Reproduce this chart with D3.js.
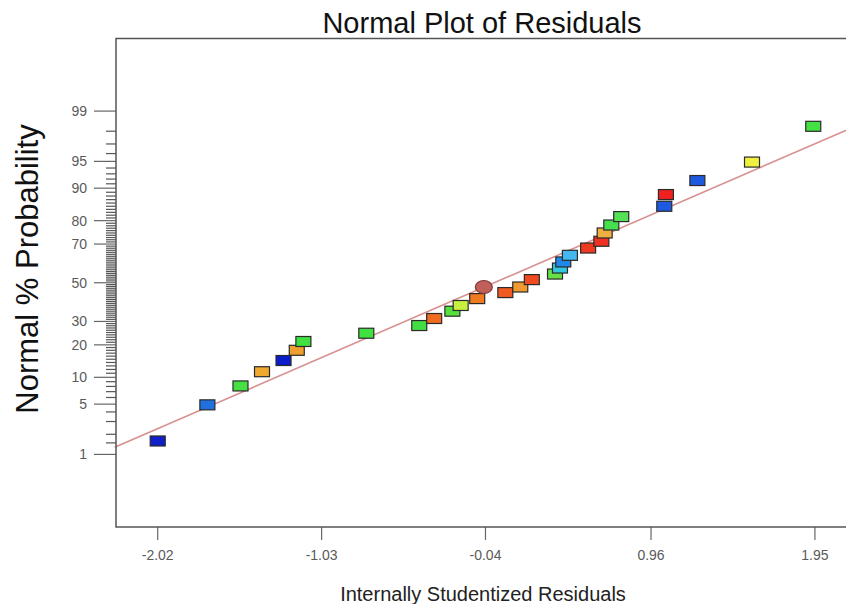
<!DOCTYPE html>
<html lang='en'>
<head>
<meta charset="utf-8">
<title>Normal Plot of Residuals</title>
<script src="https://d3js.org/d3.v7.min.js"></script>
<style type='text/css'>
    body {margin: 0; background: #fff;}
    text {font-family: "Liberation Sans", Arial, sans-serif;}
</style>
</head>
<body>
<svg width="846" height="604"></svg>
<script>
// values
var residuals = [-2.02, -1.72, -1.52, -1.39, -1.26, -1.18, -1.14, -0.76, -0.44, -0.35, -0.24,
                 -0.19, -0.09, -0.05, 0.08, 0.17, 0.24, 0.38, 0.41, 0.43, 0.47, 0.58, 0.66,
                 0.68, 0.72, 0.78, 1.04, 1.05, 1.24, 1.57, 1.94];
var probability = [1.6, 4.9, 8.1, 11.4, 14.6, 18.0, 21.3, 24.7, 28.1, 31.4, 35.0,
                   37.9, 41.5, 47.7, 44.7, 47.7, 51.7, 54.7, 57.9, 61.1, 64.5, 68.1, 71.3,
                   75.0, 78.3, 81.5, 85.0, 88.4, 91.7, 94.9, 98.3];
var pointColors = ['#1020c8', '#2070e0', '#44e044', '#f0a830', '#0a1ccc', '#f0a030', '#40e040',
                   '#40e040', '#44dd44', '#f06a20', '#55e040', '#c8f040', '#f07a20', '#c0605a',
                   '#f05a20', '#f09a30', '#f04a20', '#66e044', '#30c8e0', '#2088e8', '#44b8f0',
                   '#f03a20', '#f03020', '#f0b040', '#44e050', '#55e055', '#1e5ae0', '#f02020',
                   '#1e5ae0', '#f0f040', '#44e044'];
var ellipseIndex = 13;

var xTickValues = [-2.02, -1.03, -0.04, 0.96, 1.95];
var xTickLabels = ['-2.02', '-1.03', '-0.04', '0.96', '1.95'];
var yTickValues = [1, 5, 10, 20, 30, 50, 70, 80, 90, 95, 99];

// fitted line end points
var lineResiduals = [-2.28, 2.17];
var linePercent = [1.29, 98.2];

// inverse normal cdf (Acklam)
function probit(p) {
    var a = [-3.969683028665376e+01, 2.209460984245205e+02, -2.759285104469687e+02, 1.383577518672690e+02, -3.066479806614716e+01, 2.506628277459239e+00];
    var b = [-5.447609879822406e+01, 1.615858368580409e+02, -1.556989798598866e+02, 6.680131188771972e+01, -1.328068155288572e+01];
    var c = [-7.784894002430293e-03, -3.223964580411365e-01, -2.400758277161838e+00, -2.549732539343734e+00, 4.374664141464968e+00, 2.938163982698783e+00];
    var d = [7.784695709041462e-03, 3.224671290700398e-01, 2.445134137142996e+00, 3.754408661907416e+00];
    var q, r;
    if (p < 0.02425) {
        q = Math.sqrt(-2 * Math.log(p));
        return (((((c[0]*q+c[1])*q+c[2])*q+c[3])*q+c[4])*q+c[5]) / ((((d[0]*q+d[1])*q+d[2])*q+d[3])*q+1);
    } else if (p > 1 - 0.02425) {
        q = Math.sqrt(-2 * Math.log(1 - p));
        return -(((((c[0]*q+c[1])*q+c[2])*q+c[3])*q+c[4])*q+c[5]) / ((((d[0]*q+d[1])*q+d[2])*q+d[3])*q+1);
    }
    q = p - 0.5;
    r = q * q;
    return (((((a[0]*r+a[1])*r+a[2])*r+a[3])*r+a[4])*r+a[5])*q / (((((b[0]*r+b[1])*r+b[2])*r+b[3])*r+b[4])*r+1);
}

var plotLeft = 116, plotTop = 38.5, plotRight = 851, plotBottom = 527;

var xScale = d3.scaleLinear().domain([-2.272, 2.168]).range([plotLeft, plotRight]);
var zScale = d3.scaleLinear().domain([-3.31, 3.31]).range([plotBottom, plotTop]);
function yPos(pct) { return zScale(probit(pct / 100)); }

var svg = d3.select('svg');

// title
svg.append('text')
    .attr('x', 482).attr('y', 33)
    .attr('text-anchor', 'middle')
    .style('font-size', '29px').style('fill', '#111')
    .text('Normal Plot of Residuals');

// fitted line
svg.append('line')
    .attr('x1', xScale(lineResiduals[0])).attr('y1', yPos(linePercent[0]))
    .attr('x2', xScale(lineResiduals[1])).attr('y2', yPos(linePercent[1]))
    .style('stroke', '#d89090').style('stroke-width', 1.6);

// minor ticks on the probability axis
var minorTicks = [1.5].concat(d3.range(2, 99).filter(function(v) { return yTickValues.indexOf(v) < 0; }));
svg.append('g').selectAll('line')
    .data(minorTicks)
    .enter()
    .append('line')
    .attr('x1', plotLeft - 10).attr('x2', plotLeft)
    .attr('y1', function(d) { return yPos(d); })
    .attr('y2', function(d) { return yPos(d); })
    .style('stroke', '#555').style('stroke-width', 1.2);

// major ticks + labels
var yAxis = svg.append('g');
yAxis.selectAll('line')
    .data(yTickValues)
    .enter()
    .append('line')
    .attr('x1', plotLeft - 22).attr('x2', plotLeft)
    .attr('y1', function(d) { return yPos(d); })
    .attr('y2', function(d) { return yPos(d); })
    .style('stroke', '#666').style('stroke-width', 1.2);
yAxis.selectAll('text')
    .data(yTickValues)
    .enter()
    .append('text')
    .attr('x', 87)
    .attr('y', function(d) { return yPos(d); })
    .attr('dy', '0.35em')
    .attr('text-anchor', 'end')
    .style('font-size', '14px').style('fill', '#5a5a5a')
    .text(function(d) { return d; });

// x axis ticks below the frame
var xAxis = svg.append('g');
xAxis.selectAll('line')
    .data(xTickValues)
    .enter()
    .append('line')
    .attr('x1', function(d) { return xScale(d); })
    .attr('x2', function(d) { return xScale(d); })
    .attr('y1', plotBottom).attr('y2', plotBottom + 13)
    .style('stroke', '#666').style('stroke-width', 1.2);
xAxis.selectAll('text')
    .data(xTickValues)
    .enter()
    .append('text')
    .attr('x', function(d) { return xScale(d); })
    .attr('y', 560)
    .attr('text-anchor', 'middle')
    .style('font-size', '14px').style('fill', '#5a5a5a')
    .text(function(d, i) { return xTickLabels[i]; });

// frame
svg.append('rect')
    .attr('x', plotLeft).attr('y', plotTop)
    .attr('width', plotRight - plotLeft).attr('height', plotBottom - plotTop)
    .style('fill', 'none').style('stroke', '#555').style('stroke-width', 1.5);

// axis titles
svg.append('text')
    .attr('x', 483).attr('y', 601)
    .attr('text-anchor', 'middle')
    .style('font-size', '20px').style('fill', '#222')
    .text('Internally Studentized Residuals');

svg.append('text')
    .attr('transform', 'translate(38,269) rotate(-90)')
    .attr('text-anchor', 'middle')
    .style('font-size', '31px').style('fill', '#111')
    .text('Normal % Probability');

// points
var points = residuals.map(function(r, i) { return {r: r, p: probability[i], c: pointColors[i], i: i}; });

svg.append('g').selectAll('rect')
    .data(points.filter(function(d) { return d.i !== ellipseIndex; }))
    .enter()
    .append('rect')
    .attr('x', function(d) { return xScale(d.r) - 7.5; })
    .attr('y', function(d) { return yPos(d.p) - 5; })
    .attr('width', 15).attr('height', 10)
    .style('fill', function(d) { return d.c; })
    .style('stroke', '#2a2a2a').style('stroke-width', 1.2);

svg.append('g').selectAll('ellipse')
    .data(points.filter(function(d) { return d.i === ellipseIndex; }))
    .enter()
    .append('ellipse')
    .attr('cx', function(d) { return xScale(d.r); })
    .attr('cy', function(d) { return yPos(d.p); })
    .attr('rx', 8.5).attr('ry', 6.5)
    .style('fill', function(d) { return d.c; })
    .style('stroke', '#803838').style('stroke-width', 1.2);
</script>
</body>
</html>
